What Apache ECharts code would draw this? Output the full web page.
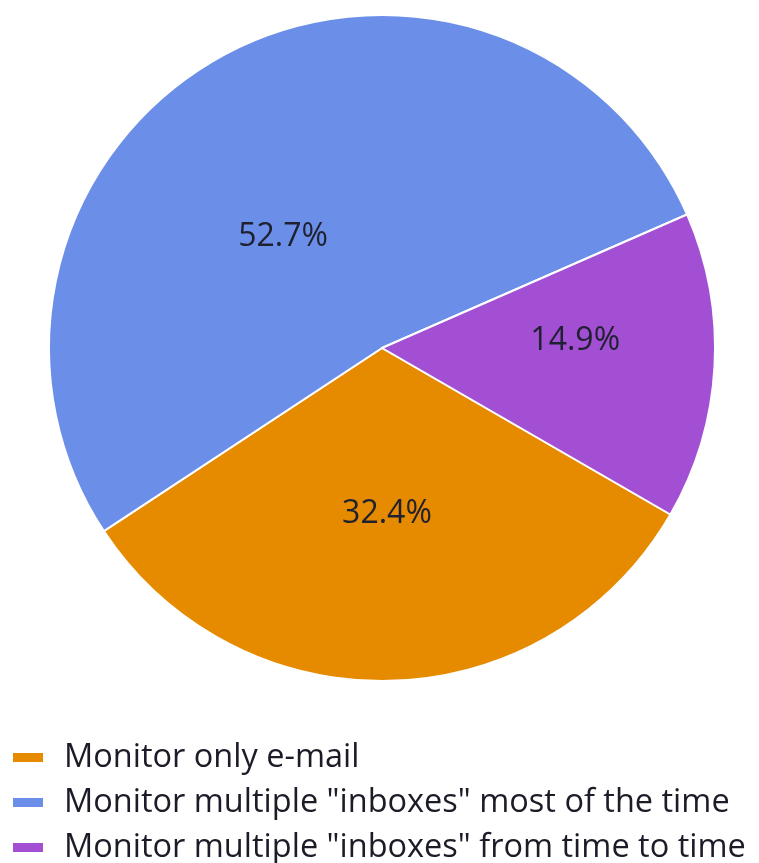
<!DOCTYPE html>
<html>
<head>
<meta charset="utf-8">
<title>Inbox monitoring</title>
<script src="https://cdn.jsdelivr.net/npm/echarts@6/dist/echarts.min.js"></script>
<style>
  html, body { margin: 0; padding: 0; background: #ffffff; }
  #chart { width: 759px; height: 863px; }
</style>
</head>
<body>
<div id="chart"></div>
<script>
// Survey answers and their shares (percent)
const categories = [
  'Monitor only e-mail',
  'Monitor multiple "inboxes" most of the time',
  'Monitor multiple "inboxes" from time to time'
];
const shares = [32.4, 52.7, 14.9];
const sliceColors = ['#E68A00', '#6B8FE8', '#A24FD3'];

// nudges for the in-slice percentage labels
const labelOffsets = [[0, -4], [-18, 38], [24, -17]];

const chart = echarts.init(document.getElementById('chart'), null, { renderer: 'canvas' });

const FONT = '"Open Sans", "Noto Sans", sans-serif';

chart.setOption({
  animation: false,
  backgroundColor: '#ffffff',
  color: sliceColors,
  legend: {
    orient: 'vertical',
    left: 6,
    top: 730,
    height: 200,
    icon: 'rect',
    itemWidth: 32,
    itemHeight: 11,
    itemGap: 0,
    selectedMode: false,
    data: categories,
    textStyle: {
      fontFamily: FONT,
      fontSize: 32.5,
      color: '#1c1c28',
      lineHeight: 45,
      padding: [0, 0, 0, 15]
    }
  },
  series: [{
    type: 'pie',
    center: [382, 348],
    radius: 333,
    startAngle: -30,
    clockwise: true,
    avoidLabelOverlap: false,
    itemStyle: { borderColor: '#ffffff', borderWidth: 2 },
    label: {
      show: true,
      position: 'inside',
      formatter: p => p.value.toFixed(1) + '%',
      fontFamily: FONT,
      fontSize: 32,
      color: '#1f2030'
    },
    labelLine: { show: false },
    emphasis: { disabled: true },
    data: categories.map((name, i) => ({
      name,
      value: shares[i],
      label: { offset: labelOffsets[i] }
    }))
  }]
});
</script>
</body>
</html>
